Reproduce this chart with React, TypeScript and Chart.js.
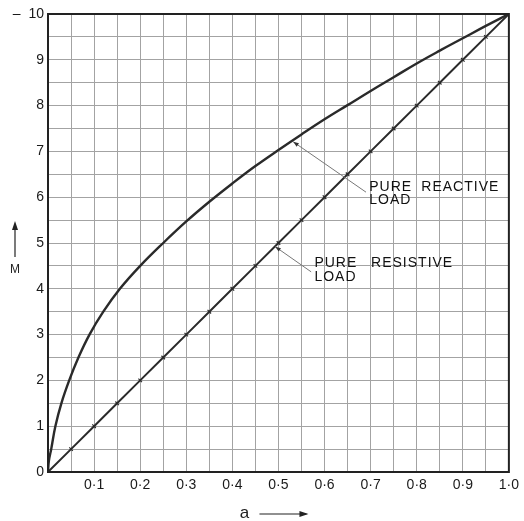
import React, { useEffect, useRef } from "react";
import { Chart, registerables } from "chart.js";

Chart.register(...registerables);

// Pure reactive load curve (a, M)
const reactiveA = [0, 0.002, 0.007, 0.016, 0.029, 0.046, 0.066, 0.09, 0.12, 0.156, 0.2, 0.25, 0.3, 0.35, 0.4, 0.45, 0.5, 0.55, 0.6, 0.65, 0.7, 0.75, 0.8, 0.85, 0.9, 0.95, 1.0];
const reactiveM = [0, 0.25, 0.5, 1.0, 1.5, 2.0, 2.5, 3.0, 3.5, 4.0, 4.5, 5.0, 5.47, 5.9, 6.3, 6.68, 7.03, 7.37, 7.7, 8.01, 8.32, 8.62, 8.92, 9.2, 9.47, 9.74, 10.0];

// Pure resistive load line (a, M)
const resistiveA = [0, 0.05, 0.1, 0.15, 0.2, 0.25, 0.3, 0.35, 0.4, 0.45, 0.5, 0.55, 0.6, 0.65, 0.7, 0.75, 0.8, 0.85, 0.9, 0.95, 1.0];
const resistiveM = [0, 0.5, 1.0, 1.5, 2.0, 2.5, 3.0, 3.5, 4.0, 4.5, 5.0, 5.5, 6.0, 6.5, 7.0, 7.5, 8.0, 8.5, 9.0, 9.5, 10.0];

// Tick labels
const xLabelValues = [0.1, 0.2, 0.3, 0.4, 0.5, 0.6, 0.7, 0.8, 0.9, 1.0];
const xLabelTexts = ["0·1", "0·2", "0·3", "0·4", "0·5", "0·6", "0·7", "0·8", "0·9", "1·0"];
const yLabelValues = [0, 1, 2, 3, 4, 5, 6, 7, 8, 9, 10];
const yLabelTexts = ["0", "1", "2", "3", "4", "5", "6", "7", "8", "9", "–  10"];

// Annotation labels (data coordinates: a, M)
const labelTexts = ["PURE", "REACTIVE", "LOAD", "PURE", "RESISTIVE", "LOAD"];
const labelA = [0.697, 0.81, 0.697, 0.578, 0.701, 0.578];
const labelM = [6.22, 6.22, 5.94, 4.56, 4.56, 4.26];

// Leader lines: from (a,M) on curve to (a,M) near label
const leaderFromA = [0.532, 0.493];
const leaderFromM = [7.21, 4.92];
const leaderToA = [0.69, 0.571];
const leaderToM = [6.11, 4.37];

const FONT = "'Liberation Sans', Arial, Helvetica, sans-serif";

function findLabel(vals: number[], texts: string[], v: number): string {
  for (let i = 0; i < vals.length; i++) {
    if (Math.abs(vals[i] - v) < 1e-6) return texts[i];
  }
  return "";
}

const overlayPlugin = {
  id: "overlay",
  afterDatasetsDraw(chart: any) {
    const ctx = chart.ctx as CanvasRenderingContext2D;
    const area = chart.chartArea;
    const xs = chart.scales.x;
    const ys = chart.scales.y;
    ctx.save();

    // Leader lines
    ctx.strokeStyle = "#777";
    ctx.fillStyle = "#333";
    ctx.lineWidth = 1;
    for (let i = 0; i < leaderFromA.length; i++) {
      const x1 = xs.getPixelForValue(leaderFromA[i]);
      const y1 = ys.getPixelForValue(leaderFromM[i]);
      const x2 = xs.getPixelForValue(leaderToA[i]);
      const y2 = ys.getPixelForValue(leaderToM[i]);
      ctx.beginPath();
      ctx.moveTo(x1, y1);
      ctx.lineTo(x2, y2);
      ctx.stroke();
      const ang = Math.atan2(y1 - y2, x1 - x2);
      const L = 6;
      ctx.beginPath();
      ctx.moveTo(x1, y1);
      ctx.lineTo(x1 - L * Math.cos(ang - 0.35), y1 - L * Math.sin(ang - 0.35));
      ctx.lineTo(x1 - L * Math.cos(ang + 0.35), y1 - L * Math.sin(ang + 0.35));
      ctx.closePath();
      ctx.fill();
    }

    // Labels
    ctx.fillStyle = "#111";
    ctx.font = `14px ${FONT}`;
    (ctx as any).letterSpacing = "1px";
    ctx.textAlign = "left";
    ctx.textBaseline = "middle";
    for (let i = 0; i < labelTexts.length; i++) {
      ctx.fillText(labelTexts[i], xs.getPixelForValue(labelA[i]), ys.getPixelForValue(labelM[i]));
    }
    (ctx as any).letterSpacing = "0px";

    // Frame
    ctx.strokeStyle = "#222";
    ctx.lineWidth = 2;
    ctx.strokeRect(area.left, area.top, area.right - area.left, area.bottom - area.top);

    // X axis title "a" with arrow
    ctx.fillStyle = "#222";
    ctx.strokeStyle = "#222";
    ctx.font = `17px ${FONT}`;
    ctx.textAlign = "center";
    ctx.textBaseline = "middle";
    const tx = (area.left + area.right) / 2 - 34;
    const ty = area.bottom + 41;
    ctx.fillText("a", tx, ty);
    ctx.lineWidth = 1.2;
    ctx.beginPath();
    ctx.moveTo(tx + 15, ty + 1);
    ctx.lineTo(tx + 62, ty + 1);
    ctx.stroke();
    ctx.beginPath();
    ctx.moveTo(tx + 64, ty + 1);
    ctx.lineTo(tx + 55, ty - 2);
    ctx.lineTo(tx + 55, ty + 4);
    ctx.closePath();
    ctx.fill();

    // Y axis title "M" with arrow
    const mx = area.left - 33;
    const my = (area.top + area.bottom) / 2 + 27;
    ctx.font = `12px ${FONT}`;
    ctx.fillText("M", mx, my);
    ctx.lineWidth = 1.2;
    ctx.beginPath();
    ctx.moveTo(mx, my - 13);
    ctx.lineTo(mx, my - 46);
    ctx.stroke();
    ctx.beginPath();
    ctx.moveTo(mx, my - 49);
    ctx.lineTo(mx - 3, my - 40);
    ctx.lineTo(mx + 3, my - 40);
    ctx.closePath();
    ctx.fill();

    ctx.restore();
  },
};

export default function App() {
  const ref = useRef<HTMLCanvasElement | null>(null);

  useEffect(() => {
    if (!ref.current) return;
    const reactiveData = reactiveA.map((a, i) => ({ x: a, y: reactiveM[i] }));
    const resistiveData = resistiveA.map((a, i) => ({ x: a, y: resistiveM[i] }));

    const chart = new Chart(ref.current, {
      type: "line",
      data: {
        datasets: [
          {
            label: "Pure reactive load",
            data: reactiveData,
            borderColor: "#2a2a2a",
            borderWidth: 2.4,
            pointRadius: 0,
            tension: 0.4,
            fill: false,
          },
          {
            label: "Pure resistive load",
            data: resistiveData,
            borderColor: "#2a2a2a",
            borderWidth: 2,
            pointStyle: "line",
            pointRadius: 2.5,
            pointRotation: 45,
            pointBorderWidth: 1.2,
            pointBorderColor: "#2a2a2a",
            tension: 0,
            fill: false,
          },
        ],
      },
      options: {
        animation: false,
        responsive: false,
        devicePixelRatio: 1,
        layout: { padding: { left: 0, top: 14, right: 14, bottom: 0 } },
        plugins: {
          legend: { display: false },
          tooltip: { enabled: false },
          title: { display: false },
        },
        scales: {
          x: {
            type: "linear",
            min: 0,
            max: 1,
            ticks: {
              stepSize: 0.05,
              autoSkip: false,
              maxRotation: 0,
              padding: 5,
              color: "#1a1a1a",
              font: { family: FONT, size: 14 },
              callback: (v: any) => findLabel(xLabelValues, xLabelTexts, Math.round(Number(v) * 100) / 100),
            },
            grid: { color: "#a3a3a3", lineWidth: 1, drawTicks: false },
            border: { display: true, color: "#222", width: 2 },
            afterFit: (scale: any) => {
              scale.height = 49;
            },
          },
          y: {
            type: "linear",
            min: 0,
            max: 10,
            ticks: {
              stepSize: 0.5,
              autoSkip: false,
              padding: 4,
              color: "#1a1a1a",
              font: { family: FONT, size: 14 },
              callback: (v: any) => findLabel(yLabelValues, yLabelTexts, Math.round(Number(v) * 10) / 10),
            },
            grid: { color: "#a3a3a3", lineWidth: 1, drawTicks: false },
            border: { display: true, color: "#222", width: 2 },
            afterFit: (scale: any) => {
              scale.width = 48;
            },
          },
        },
      } as any,
      plugins: [overlayPlugin],
    });
    return () => chart.destroy();
  }, []);

  return (
    <div style={{ position: "absolute", left: 0, top: 0, width: 524, height: 521, background: "#fff" }}>
      <canvas ref={ref} width={524} height={521} style={{ display: "block" }} />
    </div>
  );
}
